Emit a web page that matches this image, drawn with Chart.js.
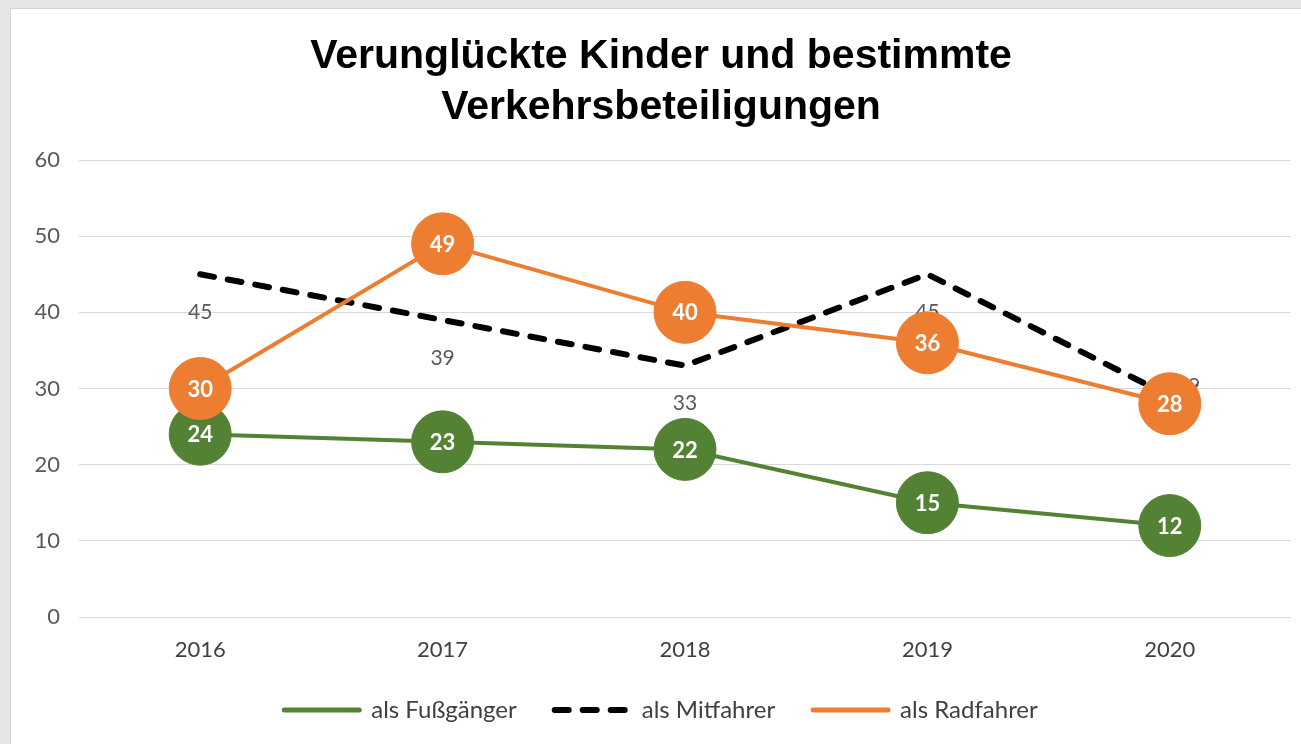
<!DOCTYPE html>
<html>
<head>
<meta charset="utf-8">
<script src="https://cdn.jsdelivr.net/npm/chart.js@4"></script>
<style>
  html, body { margin: 0; padding: 0; background: #e6e6e6; overflow: hidden; }
  .panel {
    position: absolute; left: 10px; top: 8px; width: 1290px; height: 735px;
    background: #fff; border-left: 1px solid #d4d4d4; border-top: 1px solid #d4d4d4;
  }
</style>
</head>
<body>
<div class="panel"><canvas id="chart"></canvas></div>
<script>
// data
const years = ["2016", "2017", "2018", "2019", "2020"];
const fussgaenger = [24, 23, 22, 15, 12];
const mitfahrer = [45, 39, 33, 45, 29];
const radfahrer = [30, 49, 40, 36, 28];

const GREEN = "#548235";
const ORANGE = "#ED7D31";
const BLACK = "#000000";
const TICK_FONT = "Lato, 'Open Sans', sans-serif";

/* value labels: white inside the circles, grey below the dashed line */
const valueLabels = {
  id: "valueLabels",
  afterDatasetDraw(chart, args) {
    const ds = chart.data.datasets[args.index];
    const ctx = chart.ctx;
    const pts = args.meta.data;
    ctx.save();
    ctx.textBaseline = "middle";
    pts.forEach((pt, i) => {
      const v = ds.data[i];
      if (ds.labelMode === "inside") {
        ctx.font = "bold 22px " + TICK_FONT;
        ctx.fillStyle = "#ffffff";
        ctx.textAlign = "center";
        ctx.fillText(v, pt.x, pt.y + 1);
      } else {
        ctx.font = "21px " + TICK_FONT;
        ctx.fillStyle = "#595959";
        if (i === pts.length - 1) {
          // last one sits to the right
          ctx.textAlign = "left";
          ctx.fillText(v, pt.x + 6, pt.y - 10);
        } else {
          ctx.textAlign = "center";
          ctx.fillText(v, pt.x, pt.y + 38);
        }
      }
    });
    ctx.restore();
  }
};

const circleSeries = (label, data, color, order) => ({
  label,
  data,
  order,
  borderColor: color,
  backgroundColor: color,
  borderWidth: 4,
  pointRadius: 31,
  pointHitRadius: 0,
  pointBackgroundColor: color,
  pointBorderColor: color,
  pointBorderWidth: 1,
  tension: 0,
  labelMode: "inside",
  legendDash: []
});

new Chart(document.getElementById("chart"), {
  type: "line",
  data: {
    labels: years,
    datasets: [
      circleSeries("als Fußgänger", fussgaenger, GREEN, 3),
      {
        label: "als Mitfahrer",
        data: mitfahrer,
        order: 2,
        borderColor: BLACK,
        backgroundColor: BLACK,
        borderWidth: 6,
        borderDash: [14, 14],
        borderCapStyle: "round",
        pointRadius: 0,
        pointHitRadius: 0,
        tension: 0,
        labelMode: "below",
        legendDash: [14, 14]
      },
      circleSeries("als Radfahrer", radfahrer, ORANGE, 1)
    ]
  },
  options: {
    responsive: true,
    maintainAspectRatio: false,
    animation: false,
    events: [],
    layout: { autoPadding: false, padding: { top: 10, left: 20, right: 10, bottom: 12 } },
    plugins: {
      title: {
        display: true,
        text: ["Verunglückte Kinder und bestimmte", "Verkehrsbeteiligungen"],
        color: "#000",
        font: { family: "'Liberation Sans', Arial, sans-serif", size: 41, weight: "bold", lineHeight: 1.244 },
        padding: { top: 12.5, bottom: 26.5 }
      },
      legend: {
        position: "bottom",
        maxHeight: 75,
        labels: {
          usePointStyle: true,
          pointStyleWidth: 75,
          boxHeight: 6,
          padding: 38,
          color: "#404040",
          font: { family: TICK_FONT, size: 24 },
          generateLabels: (chart) =>
            chart.data.datasets.map((ds, i) => ({
              text: ds.label,
              pointStyle: "line",
              strokeStyle: ds.borderColor,
              fillStyle: ds.borderColor,
              fontColor: "#404040",
              lineWidth: ds.labelMode === "inside" ? 5 : 6,
              lineDash: ds.legendDash,
              lineCap: "round",
              hidden: false,
              datasetIndex: i
            }))
        }
      },
      tooltip: { enabled: false }
    },
    scales: {
      x: {
        offset: true,
        grid: { display: false, drawTicks: false },
        border: { display: false },
        ticks: { color: "#404040", font: { family: TICK_FONT, size: 22 }, padding: 20 },
        afterFit: (scale) => {
          scale.height = 43;
          scale.paddingLeft = 0;
          scale.paddingRight = 0;
        }
      },
      y: {
        min: 0,
        max: 60,
        ticks: { stepSize: 10, color: "#595959", font: { family: TICK_FONT, size: 22 }, padding: 19 },
        grid: { color: "#d9d9d9", lineWidth: 1, drawTicks: false },
        border: { display: false },
        afterFit: (scale) => { scale.width = 48; }
      }
    }
  },
  plugins: [valueLabels]
});
</script>
</body>
</html>
